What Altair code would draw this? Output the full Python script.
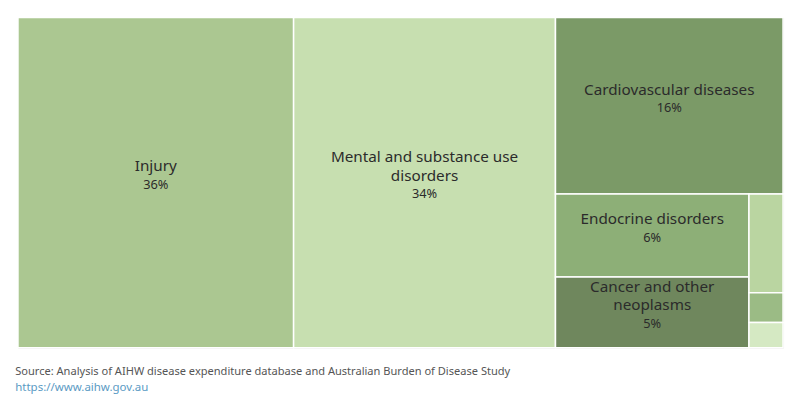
import altair as alt
import pandas as pd

# Share of burden by disease group (%)
groups = [
    "Injury",
    "Mental and substance use disorders",
    "Cardiovascular diseases",
    "Endocrine disorders",
    "Cancer and other neoplasms",
    "Infectious diseases",
    "Neurological conditions",
    "Other",
]
shares = [36.0, 34.2, 15.9, 6.35, 5.4, 1.33, 0.40, 0.34]
pct_labels = ["36%", "34%", "16%", "6%", "5%", "", "", ""]
# Wrapped label lines as displayed inside each tile
label_lines = [
    ["Injury"],
    ["Mental and substance use", "disorders"],
    ["Cardiovascular diseases"],
    ["Endocrine disorders"],
    ["Cancer and other", "neoplasms"],
    [],
    [],
    [],
]
colors = ["#abc791", "#c7dfb0", "#7b9a67", "#8daf77", "#6f875d", "#bad5a1", "#9bbb85", "#d5e9c3"]

W, H = 767, 331

# Tile nesting: split direction and children (leaf = index into groups)
tree = ("x", [0, 1, ("y", [2, ("x", [("y", [3, 4]), ("y", [5, 6, 7])])])])


def total(node):
    if isinstance(node, int):
        return shares[node]
    return sum(total(c) for c in node[1])


def layout(node, x0, y0, x1, y1, out):
    if isinstance(node, int):
        out[node] = (x0, y0, x1, y1)
        return
    direction, children = node
    s = total(node)
    pos = x0 if direction == "x" else y0
    for c in children:
        f = total(c) / s
        if direction == "x":
            nxt = pos + f * (x1 - x0)
            layout(c, pos, y0, nxt, y1, out)
        else:
            nxt = pos + f * (y1 - y0)
            layout(c, x0, pos, x1, nxt, out)
        pos = nxt


boxes = {}
layout(tree, 0, 0, W, H, boxes)

tiles = pd.DataFrame(
    [
        dict(group=g, share=s, color=c, x=boxes[i][0], y=boxes[i][1], x2=boxes[i][2], y2=boxes[i][3])
        for i, (g, s, c) in enumerate(zip(groups, shares, colors))
    ]
)

# Text rows: each wrapped name line plus the percentage, stacked around the tile centre
LINE = 18.5
rows = []
for i, lines in enumerate(label_lines):
    if not lines:
        continue
    x0, y0, x1, y1 = boxes[i]
    cx, cy = (x0 + x1) / 2, (y0 + y1) / 2 - 7
    n = len(lines)
    for k, t in enumerate(lines + [pct_labels[i]]):
        rows.append(dict(text=t, kind="pct" if k == n else "name", cx=cx, cy=cy + (k - n / 2) * LINE))
labels = pd.DataFrame(rows)

xs = alt.Scale(domain=[0, W], nice=False, zero=False)
ys = alt.Scale(domain=[0, H], nice=False, zero=False, reverse=True)
noaxis = None

rects = (
    alt.Chart(tiles)
    .mark_rect(stroke="white", strokeWidth=1.5)
    .encode(
        x=alt.X("x:Q", scale=xs, axis=noaxis),
        x2="x2:Q",
        y=alt.Y("y:Q", scale=ys, axis=noaxis),
        y2="y2:Q",
        color=alt.Color("color:N", scale=None),
        tooltip=["group:N", "share:Q"],
    )
)

names = (
    alt.Chart(labels)
    .transform_filter(alt.datum.kind == "name")
    .mark_text(font="Noto Sans", fontSize=15.3, color="#2b2b2b", baseline="middle")
    .encode(x=alt.X("cx:Q", scale=xs), y=alt.Y("cy:Q", scale=ys), text="text:N")
)

pcts = (
    alt.Chart(labels)
    .transform_filter(alt.datum.kind == "pct")
    .mark_text(font="Noto Sans", fontSize=12.8, color="#2b2b2b", baseline="middle")
    .encode(x=alt.X("cx:Q", scale=xs), y=alt.Y("cy:Q", scale=ys), text="text:N")
)

chart = (
    alt.layer(rects, names, pcts)
    .properties(
        width=W,
        height=H,
        padding={"left": 15, "top": 16, "right": 16, "bottom": 5},
        title=alt.TitleParams(
            text="Source: Analysis of AIHW disease expenditure database and Australian Burden of Disease Study",
            subtitle="https://www.aihw.gov.au",
            orient="bottom",
            anchor="start",
            dx=-2,
            offset=18,
            font="Noto Sans",
            fontSize=11.1,
            fontWeight="normal",
            color="#555555",
            subtitleFont="Noto Sans",
            subtitleFontSize=11.5,
            subtitleColor="#5b9bc4",
            subtitlePadding=5,
        ),
    )
    .configure_view(stroke=None)
    .configure(background="white")
)

chart.save("out.html", embed_options={"renderer": "svg", "actions": False})
